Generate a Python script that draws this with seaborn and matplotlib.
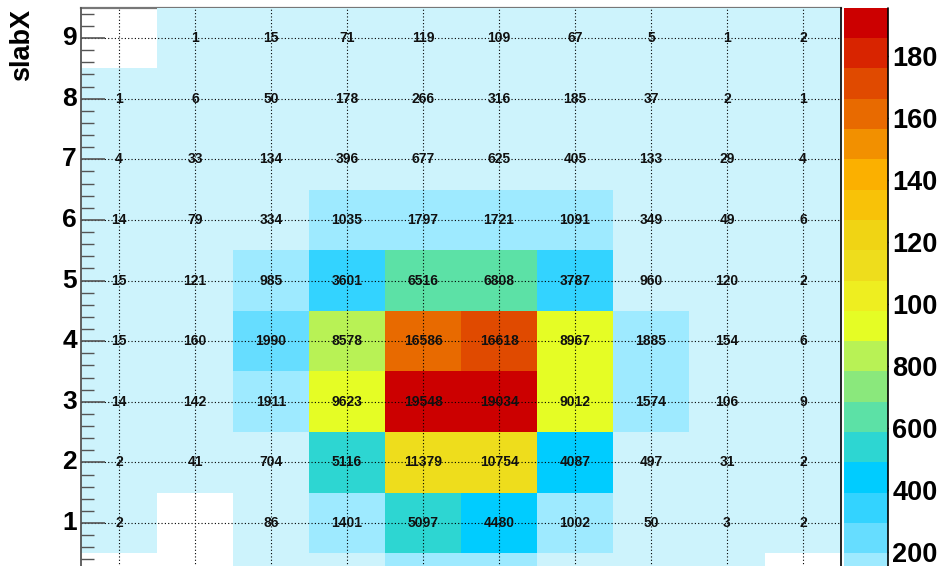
import numpy as np
import pandas as pd
import matplotlib
matplotlib.use("Agg")
import matplotlib.pyplot as plt
from matplotlib.colors import ListedColormap, BoundaryNorm
from matplotlib.ticker import FixedLocator
import seaborn as sns

# slabY bins along x, slabX bins along y (listed top row first)
slab_y = list(range(10))
slab_x = [9, 8, 7, 6, 5, 4, 3, 2, 1, 0]

counts_9 = [0, 1, 15, 71, 119, 109, 67, 5, 1, 2]
counts_8 = [1, 6, 50, 178, 266, 316, 185, 37, 2, 1]
counts_7 = [4, 33, 134, 396, 677, 625, 405, 133, 29, 4]
counts_6 = [14, 79, 334, 1035, 1797, 1721, 1091, 349, 49, 6]
counts_5 = [15, 121, 985, 3601, 6516, 6808, 3787, 960, 120, 2]
counts_4 = [15, 160, 1990, 8578, 16586, 16618, 8967, 1885, 154, 6]
counts_3 = [14, 142, 1911, 9623, 19548, 19034, 9012, 1574, 106, 9]
counts_2 = [2, 41, 704, 5116, 11379, 10754, 4087, 497, 31, 2]
counts_1 = [2, 0, 86, 1401, 5097, 4480, 1002, 50, 3, 2]
counts_0 = [0, 0, 4, 118, 1096, 1032, 158, 12, 2, 0]

y_tick_labels = [9, 8, 7, 6, 5, 4, 3, 2, 1]
cbar_ticks = [2000, 4000, 6000, 8000, 10000, 12000, 14000, 16000, 18000]

# 20-level rainbow palette, lowest level first
palette = [
    "#cdf3fc", "#9eeaff", "#66ddff", "#33d3ff", "#00ccff",
    "#2dd6d2", "#5ce1a6", "#8ae87c", "#b8f255", "#e5fd25",
    "#eeee20", "#eedd1c", "#f0d414", "#f8c208", "#fbb000",
    "#f29000", "#e86a00", "#e04a00", "#d82400", "#cc0000",
]

grid = pd.DataFrame(
    [counts_9, counts_8, counts_7, counts_6, counts_5,
     counts_4, counts_3, counts_2, counts_1, counts_0],
    index=slab_x, columns=slab_y,
)
z_max = int(grid.values.max())
n_levels = len(palette)

cmap = ListedColormap(palette)
norm = BoundaryNorm(np.linspace(0, z_max, n_levels + 1), n_levels)

# cell captions; the bottom row lies below the visible frame
captions = grid.astype(str)
captions.loc[0, :] = ""

sns.set_theme(style="white")
plt.rcParams["font.family"] = ["Liberation Sans", "DejaVu Sans"]
plt.rcParams["font.weight"] = "bold"
plt.rcParams["text.color"] = "black"
plt.rcParams["axes.labelcolor"] = "black"

W, H = 938, 566
fig = plt.figure(figsize=(W / 100, H / 100), dpi=100)
ax = fig.add_axes([81 / W, 1 - 614 / H, 760 / W, 606.3 / H])
cax = fig.add_axes([843.5 / W, 1 - 614 / H, 44.5 / W, 606.3 / H])

sns.heatmap(
    grid, ax=ax, cbar_ax=cax, cmap=cmap, norm=norm,
    mask=(grid == 0), annot=captions, fmt="s", linewidths=0,
    annot_kws={"fontsize": 10, "fontweight": "bold", "color": "#111111"},
)

# axis ticks: integer bins at cell centres, minor ticks every 0.2
ax.set_xticks(np.arange(len(slab_y)) + 0.5)
ax.set_xticklabels([str(v) for v in slab_y])
ax.set_yticks([9.5 - v for v in y_tick_labels])
ax.set_yticklabels([str(v) for v in y_tick_labels], rotation=0)
minor_vals = [round(v, 1) for v in np.arange(-0.4, 9.5, 0.2)
              if abs(v - round(v)) > 1e-6]
ax.yaxis.set_minor_locator(FixedLocator([9.5 - v for v in minor_vals]))

ax.tick_params(axis="y", which="major", direction="in", length=17.3,
               width=1.2, color="#555555", labelcolor="black",
               labelsize=19, pad=3, left=True, right=False)
ax.tick_params(axis="y", which="minor", direction="in", length=9.4,
               width=1.0, color="#555555", left=True, right=False)
ax.tick_params(axis="x", which="both", length=0, labelbottom=False,
               bottom=False, top=False)

ax.set_axisbelow(False)
ax.grid(True, which="major", color="black", linestyle=(0, (1, 2)),
        linewidth=0.8)

for side in ("left", "right", "top"):
    ax.spines[side].set_visible(True)
ax.spines["left"].set_color("#555555")
ax.spines["left"].set_linewidth(1.3)
ax.spines["right"].set_color("black")
ax.spines["right"].set_linewidth(1.2)
ax.spines["top"].set_color("#777777")
ax.spines["top"].set_linewidth(1.6)
ax.spines["top"].set_zorder(0.5)
ax.spines["bottom"].set_visible(False)

ax.set_xlabel("")
ax.set_ylabel("slabX", fontsize=19.5, fontweight="bold", loc="top",
              color="black")
ax.yaxis.set_label_coords(-0.061, 0.9985)

# colour scale
cbar = ax.collections[0].colorbar
cbar.set_ticks(cbar_ticks)
cbar.ax.minorticks_off()
cbar.ax.tick_params(direction="in", length=17.3, width=1.0, color="black",
                    labelcolor="black", labelsize=19.5, pad=3,
                    right=True, left=False)
cbar.outline.set_visible(False)
cax.plot([1, 1], [0, 1], transform=cax.transAxes, color="black",
         lw=1.2, clip_on=False)

fig.savefig("out.png", dpi=100)
